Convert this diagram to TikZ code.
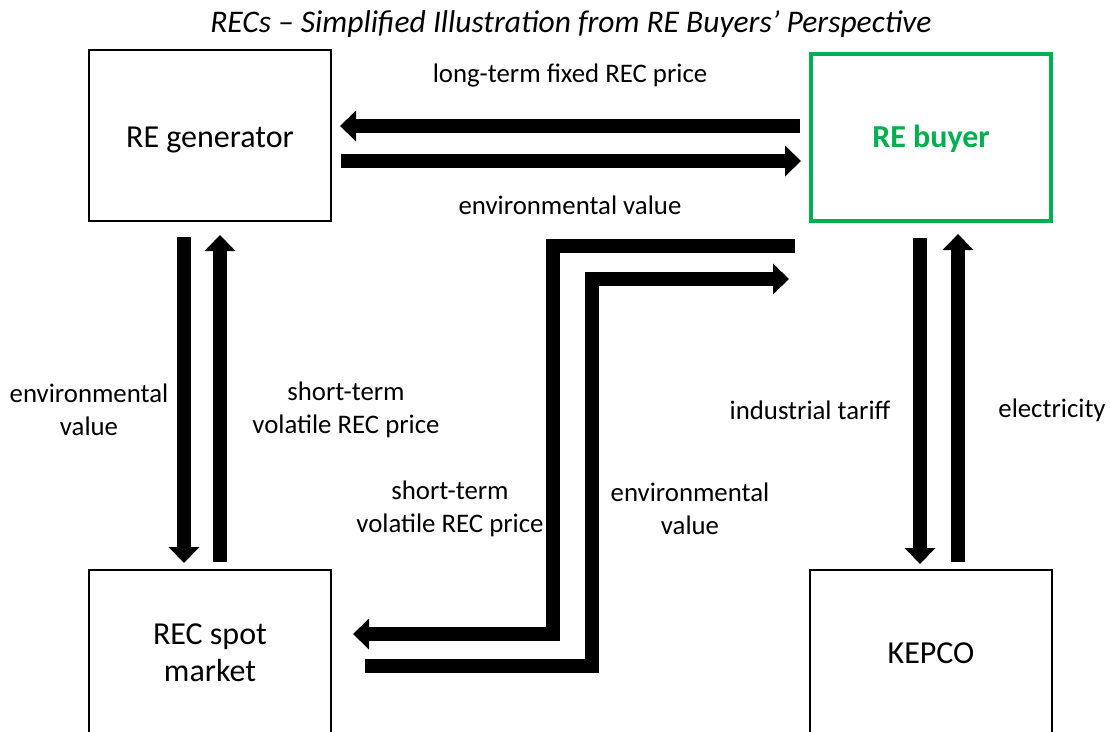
\documentclass[tikz,border=0pt]{standalone}
\usepackage{fontspec}
\setmainfont{Carlito}
\usetikzlibrary{arrows.meta}
\definecolor{buyergreen}{RGB}{0,176,80}
\begin{document}
\begin{tikzpicture}[x=1pt,y=-1pt,
  box/.style={draw=black,line width=1.5pt,minimum width=242pt,minimum height=171pt,inner sep=0pt},
  boxtext/.style={font=\fontsize{32}{37}\selectfont,align=center,inner sep=0pt},
  fat/.style={line width=14pt,draw=black},
  fatarrow/.style={fat,-{Triangle[length=16pt,width=30pt]}},
  lbl/.style={font=\fontsize{26.8}{33}\selectfont,align=center,inner sep=0pt}]
\useasboundingbox (0,0) rectangle (1110,731);
\clip (0,0) rectangle (1110,731);
\fill[white] (0,0) rectangle (1110,731);
\node[font=\itshape\fontsize{31.5}{36}\selectfont] (title) at (571,24) {RECs – Simplified Illustration from RE Buyers’ Perspective};
\node[box] (gen) at (210,135.5) {};
\node[boxtext] (gent) at (210,140) {RE generator};
\node[box,draw=buyergreen,line width=4pt,minimum width=240pt,minimum height=167pt] (buyer) at (931,137) {};
\node[boxtext,text=buyergreen,font=\bfseries\fontsize{32}{37}\selectfont] (buyert) at (931,139) {RE buyer};
\node[box,minimum height=176pt] (spot) at (210,658) {};
\node[boxtext] (spott) at (210,653) {REC spot\\market};
\node[box,minimum height=176pt] (kepco) at (931,658) {};
\node[boxtext] (kepcot) at (931,653) {KEPCO};
% top pair
\coordinate (a1s) at (800,126); \coordinate (a1e) at (340,126);
\coordinate (a2s) at (341,161); \coordinate (a2e) at (801,161);
\draw[fatarrow] (a1s) -- (a1e);
\draw[fatarrow] (a2s) -- (a2e);
% left pair
\coordinate (b1s) at (184,237); \coordinate (b1e) at (184,563);
\coordinate (b2s) at (220,562); \coordinate (b2e) at (220,235);
\draw[fatarrow] (b1s) -- (b1e);
\draw[fatarrow] (b2s) -- (b2e);
% right pair
\coordinate (c1s) at (920,238); \coordinate (c1e) at (920,564);
\coordinate (c2s) at (958,562); \coordinate (c2e) at (958,234);
\draw[fatarrow] (c1s) -- (c1e);
\draw[fatarrow] (c2s) -- (c2e);
% Z connectors
\coordinate (d1s) at (795,246); \coordinate (d1e) at (353,634);
\draw[fatarrow] (d1s) -- (553,246) -- (553,634) -- (d1e);
\coordinate (d2s) at (365,666); \coordinate (d2e) at (789,279);
\draw[fatarrow] (d2s) -- (592,666) -- (592,279) -- (d2e);
% labels
\node[lbl] (l1) at (570,75) {long-term fixed REC price};
\node[lbl] (l2) at (570,205) {environmental value};
\node[lbl] (l3) at (89,410) {environmental\\value};
\node[lbl] (l4) at (346,410) {short-term\\volatile REC price};
\node[lbl] (l5) at (450,509) {short-term\\volatile REC price};
\node[lbl] (l6) at (690,509) {environmental\\value};
\node[lbl] (l7) at (810,410) {industrial tariff};
\node[lbl] (l8) at (1052,410) {electricity};
\end{tikzpicture}
\end{document}
